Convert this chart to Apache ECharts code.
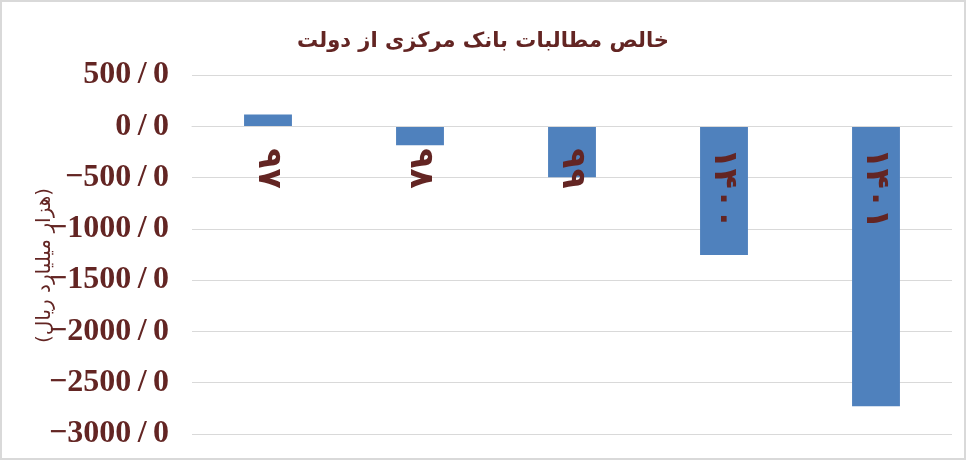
<!DOCTYPE html>
<html><head><meta charset="utf-8">
<script src="https://cdn.jsdelivr.net/npm/echarts@6/dist/echarts.min.js"></script>
<style>html,body{margin:0;padding:0;background:#fff}#w{position:relative;width:966px;height:460px}#c{width:966px;height:460px}#b{position:absolute;left:0;top:0;width:966px;height:460px;box-sizing:border-box;border:2px solid #d9d9d9;pointer-events:none}</style>
</head><body><div id="w"><div id="c"></div><div id="b"></div></div>
<script>
const categories = ['۹۷', '۹۸', '۹۹', '۱۴۰۰', '۱۴۰۱'];
const values = [115, -185, -497, -1255, -2730];
const titleText = 'خالص مطالبات بانک مرکزی از دولت';
const yName = '(هزار میلیارد ریال)';
const yMin = -3000, yMax = 500, yStep = 500;

const TXT = '#632523';
const chart = echarts.init(document.getElementById('c'), null, {renderer: 'canvas'});
chart.setOption({
  animation: false,
  title: {text: titleText, left: 'center', top: 26,
    textStyle: {color: TXT, fontFamily: 'DejaVu Sans', fontWeight: 'bold', fontSize: 21}},
  grid: {left: 192, right: 14, top: 75, bottom: 26, containLabel: false, outerBoundsMode: 'none'},
  xAxis: {type: 'category', data: categories, z: 10, position: 'bottom', offset: 0,
    axisLine: {show: true, onZero: false, lineStyle: {color: '#d9d9d9', width: 1}},
    axisTick: {show: false},
    axisLabel: {rotate: -90, margin: 22, color: TXT, fontFamily: 'DejaVu Sans', fontWeight: 'bold', fontSize: 33}},
  yAxis: {type: 'value', min: yMin, max: yMax, interval: yStep,
    name: yName, nameLocation: 'middle', nameGap: 137, nameMoveOverlap: false,
    nameTextStyle: {color: TXT, fontFamily: 'DejaVu Sans', fontSize: 20, padding: [0, 22, 0, 0]},
    axisLine: {show: false}, axisTick: {show: false},
    splitLine: {lineStyle: {color: '#d9d9d9', width: 1}},
    axisLabel: {margin: 23, color: TXT, fontFamily: 'Liberation Serif', fontWeight: 'bold', fontSize: 32,
      formatter: v => (v < 0 ? '\u2212' : '') + Math.abs(v) + '\u2009/\u20090'}},
  series: [{type: 'bar', data: values, barWidth: '31.5%', itemStyle: {color: '#4f81bd'}}]
});
// place the category axis on the zero line (v6 ignores onZero here)
const zeroY = chart.convertToPixel({yAxisIndex: 0}, 0);
const bottomY = chart.convertToPixel({yAxisIndex: 0}, yMin);
chart.setOption({xAxis: {offset: zeroY - bottomY}});
</script></body></html>
